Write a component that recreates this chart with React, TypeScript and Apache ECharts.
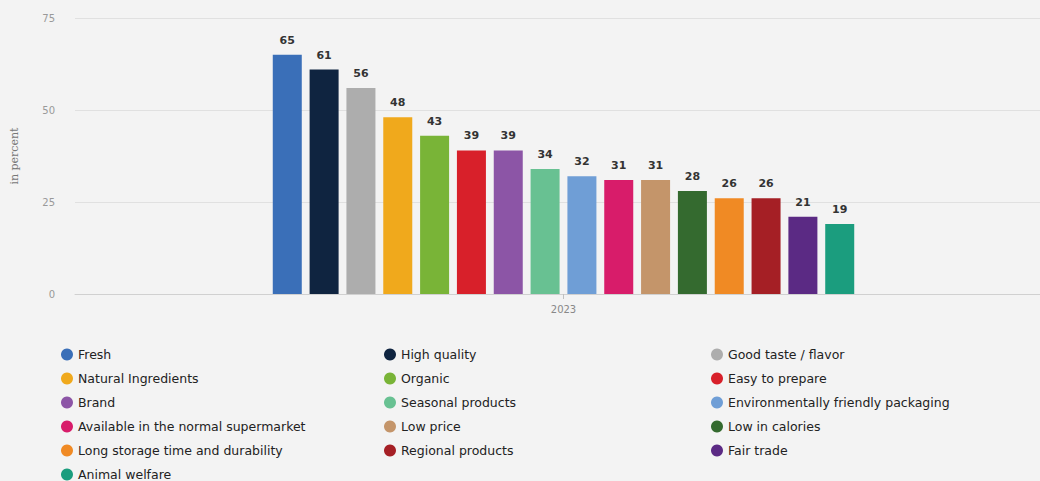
import React, { useEffect, useRef } from "react";
import * as echarts from "echarts";

const categories = ["2023"];
const seriesNames = [
  "Fresh", "High quality", "Good taste / flavor",
  "Natural Ingredients", "Organic", "Easy to prepare",
  "Brand", "Seasonal products", "Environmentally friendly packaging",
  "Available in the normal supermarket", "Low price", "Low in calories",
  "Long storage time and durability", "Regional products", "Fair trade",
  "Animal welfare",
];
const seriesValues = [65, 61, 56, 48, 43, 39, 39, 34, 32, 31, 31, 28, 26, 26, 21, 19];
const seriesColors = [
  "#3a6fb8", "#0f2440", "#adadad",
  "#f0a91c", "#79b437", "#d8202a",
  "#8c55a6", "#68c192", "#6f9ed6",
  "#d81c6a", "#c4956a", "#346a2f",
  "#f08a24", "#a51f25", "#5b2a84",
  "#1b9d7e",
];
const yTicks = [0, 25, 50, 75];

export default function App() {
  const ref = useRef<HTMLDivElement>(null);
  useEffect(() => {
    if (!ref.current) return;
    const chart = echarts.init(ref.current, null, { renderer: "svg" });
    const series = seriesNames.map((name, i) => ({
      name,
      type: "bar",
      data: [seriesValues[i]],
      barWidth: 29,
      barGap: "27%",
      itemStyle: { color: seriesColors[i] },
      label: {
        show: true,
        position: "top",
        distance: 9,
        fontSize: 11,
        fontWeight: "bold",
        color: "#333",
        fontFamily: "DejaVu Sans",
      },
    }));
    const legendBase = {
      orient: "vertical",
      icon: "circle",
      itemWidth: 12,
      itemHeight: 12,
      itemGap: 11,
      top: 343,
      height: 150,
      textStyle: { fontSize: 12.5, color: "#222", fontFamily: "DejaVu Sans", lineHeight: 13 },
    };
    const col = (k: number) => seriesNames.filter((_, i) => i % 3 === k);
    chart.setOption({
      animation: false,
      backgroundColor: "#f3f3f3",
      grid: { left: 75, top: 18, width: 977, height: 276 },
      legend: [
        { ...legendBase, left: 56, data: col(0) },
        { ...legendBase, left: 379, data: col(1) },
        { ...legendBase, left: 706, data: col(2) },
      ],
      xAxis: {
        type: "category",
        data: categories,
        axisLine: { lineStyle: { color: "#d0d0d0" } },
        axisTick: { show: true, alignWithLabel: true, lineStyle: { color: "#c0c0c0" } },
        axisLabel: { color: "#888", fontSize: 10, margin: 10, fontFamily: "DejaVu Sans" },
      },
      yAxis: {
        type: "value",
        min: 0,
        max: 75,
        interval: 25,
        name: "in percent",
        nameLocation: "middle",
        nameGap: 55,
        nameTextStyle: { color: "#777", fontSize: 11, fontFamily: "DejaVu Serif" },
        axisLine: { show: false },
        axisTick: { show: false },
        axisLabel: {
          color: "#999",
          fontSize: 10,
          margin: 20,
          fontFamily: "DejaVu Sans",
          formatter: (v: number) => (yTicks.includes(v) ? String(v) : ""),
        },
        splitLine: { lineStyle: { color: "#e0e0e0" } },
      },
      series,
    });
    return () => chart.dispose();
  }, []);
  return (
    <div
      style={{ position: "absolute", left: 0, top: 0, width: 1040, height: 481, overflow: "hidden", background: "#f3f3f3" }}
    >
      <div ref={ref} style={{ width: 1070, height: 481 }} />
    </div>
  );
}
